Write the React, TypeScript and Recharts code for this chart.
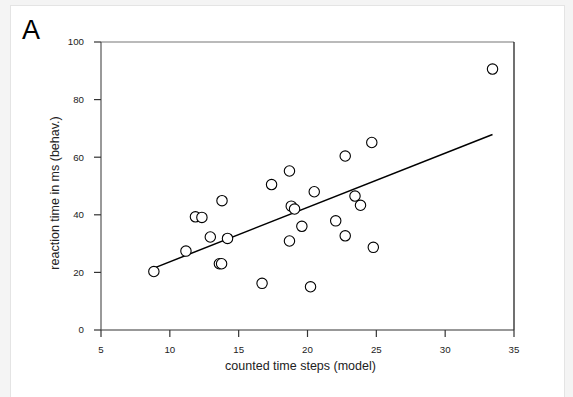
import { ScatterChart, Scatter, XAxis, YAxis, ReferenceLine } from 'recharts'

// counted time steps (model) vs reaction time in ms (behav.)
const modelSteps = [
  8.84, 11.17, 11.86, 12.33, 12.94, 13.6, 13.76, 13.79, 14.19, 16.7, 17.39, 18.69, 18.69,
  18.82, 19.06, 19.59, 20.22, 20.49, 22.05, 22.74, 22.74, 23.45, 23.85, 24.67, 24.78, 33.44,
]
const reactionMs = [
  20.3, 27.4, 39.3, 39.1, 32.3, 23.0, 23.0, 44.9, 31.8, 16.2, 50.5, 55.2, 30.9,
  43.0, 42.0, 36.0, 15.0, 48.0, 37.9, 60.4, 32.7, 46.5, 43.3, 65.1, 28.7, 90.6,
]

// regression line end points
const fitSteps = [8.84, 33.44]
const fitMs = [21.5, 67.9]

const xTicks = [5, 10, 15, 20, 25, 30, 35]
const yTicks = [0, 20, 40, 60, 80, 100]

const points = modelSteps.map((x, i) => ({ x, y: reactionMs[i] }))
const fitPoints = fitSteps.map((x, i) => ({ x, y: fitMs[i] }))

const FONT = '"Liberation Sans", Arial, Helvetica, sans-serif'
const tickStyle = { fill: '#222', fontSize: 9.7, fontFamily: FONT }

function OpenCircle(props: any) {
  const { cx, cy } = props
  if (cx == null || cy == null) return <g />
  return <circle cx={cx} cy={cy} r={5.2} fill="#fff" stroke="#000" strokeWidth={1.1} />
}

function XLabel(props: any) {
  const vb = props.viewBox
  return (
    <text x={vb.x + vb.width / 2 - 7} y={vb.y + vb.height} textAnchor="middle"
      fontSize={12.5} fontFamily={FONT} fill="#222">
      counted time steps (model)
    </text>
  )
}

function YLabel(props: any) {
  const vb = props.viewBox
  const x = vb.x + 4
  const y = vb.y + vb.height / 2 + 7
  return (
    <text x={x} y={y} transform={`rotate(-90, ${x}, ${y})`} textAnchor="middle"
      dominantBaseline="central" fontSize={12.5} fontFamily={FONT} fill="#222">
      reaction time in ms (behav.)
    </text>
  )
}

export default function App() {
  return (
    <div style={{ position: 'absolute', top: 0, left: 0, width: 573, height: 397, background: '#f4f4f4', overflow: 'hidden' }}>
      <div style={{ position: 'absolute', left: 10, top: 5, width: 553, height: 400, background: '#fff', borderLeft: '1px solid #e4e4e4', borderTop: '1px solid #e4e4e4', borderRight: '1px solid #e4e4e4' }} />
      <div style={{ position: 'absolute', left: 22, top: 14, fontFamily: FONT, fontSize: 27, color: '#000', lineHeight: '33px' }}>A</div>
      <div style={{ position: 'absolute', left: 0, top: 0 }}>
        <ScatterChart width={573} height={397} margin={{ top: 42, right: 59, bottom: 27, left: 51 }}>
          <XAxis
            type="number"
            dataKey="x"
            domain={[5, 35]}
            ticks={xTicks}
            height={40}
            tickSize={7}
            tickMargin={9}
            tick={tickStyle}
            axisLine={{ stroke: '#333', strokeWidth: 1.2 }}
            tickLine={{ stroke: '#333', strokeWidth: 1.2 }}
            label={<XLabel />}
          />
          <YAxis
            type="number"
            dataKey="y"
            domain={[0, 100]}
            ticks={yTicks}
            width={50}
            tickSize={7}
            tickMargin={10}
            tick={tickStyle}
            axisLine={{ stroke: '#555', strokeWidth: 1.2 }}
            tickLine={{ stroke: '#333', strokeWidth: 1.2 }}
            label={<YLabel />}
          />
          <ReferenceLine y={100} stroke="#777" strokeWidth={1.2} />
          <ReferenceLine x={35} stroke="#111" strokeWidth={1.2} />
          <Scatter data={fitPoints} line={{ stroke: '#000', strokeWidth: 1.5 }} shape={() => <g />} isAnimationActive={false} />
          <Scatter data={points} shape={<OpenCircle />} isAnimationActive={false} />
        </ScatterChart>
      </div>
    </div>
  )
}
